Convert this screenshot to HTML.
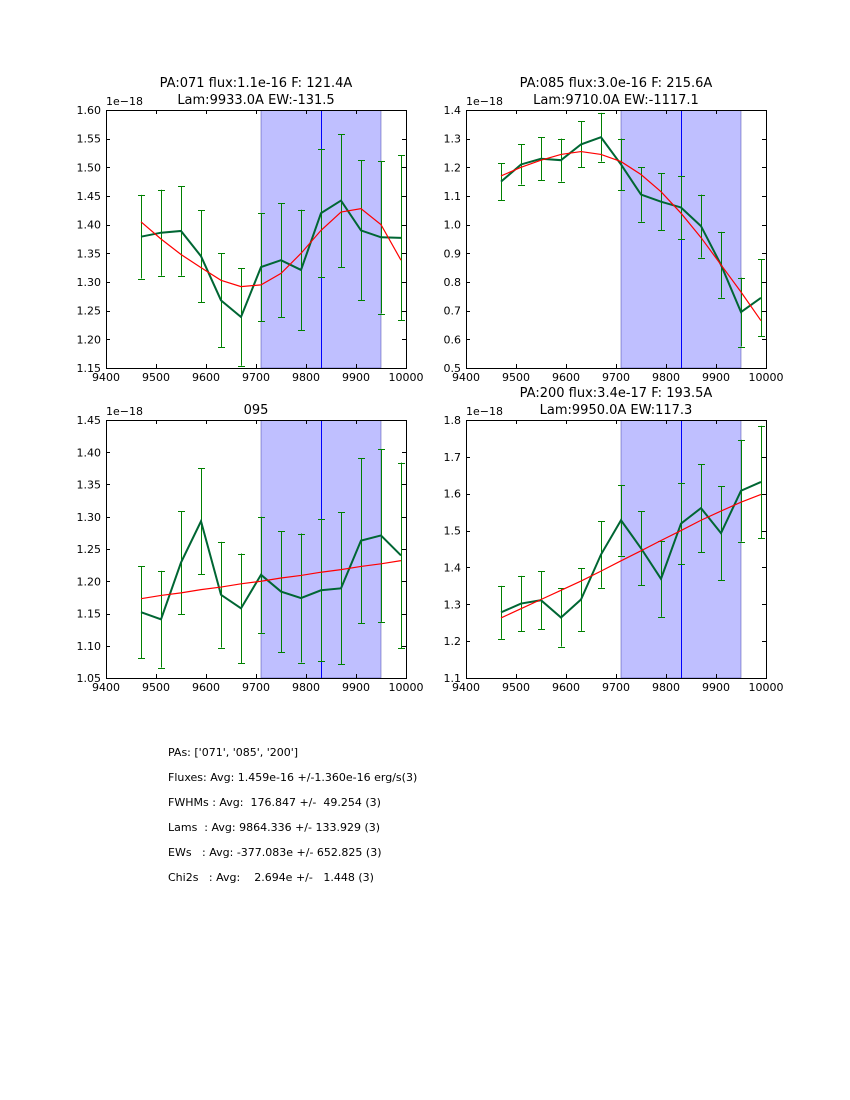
<!DOCTYPE html>
<html><head><meta charset="utf-8"><style>
body{margin:0;background:#fff;width:850px;height:1100px;overflow:hidden}
svg{position:absolute;left:0;top:0}
text{font-family:"DejaVu Sans","Liberation Sans",sans-serif;fill:#000}
.info{position:absolute;left:168px;font-family:"DejaVu Sans","Liberation Sans",sans-serif;font-size:11px;white-space:pre;line-height:13px}
</style></head><body>
<svg id="fig" width="850" height="1100"></svg>
<div class="info" style="top:746px">PAs: ['071', '085', '200']</div>
<div class="info" style="top:771px">Fluxes: Avg: 1.459e-16 +/-1.360e-16 erg/s(3)</div>
<div class="info" style="top:796px">FWHMs : Avg:  176.847 +/-  49.254 (3)</div>
<div class="info" style="top:821px">Lams  : Avg: 9864.336 +/- 133.929 (3)</div>
<div class="info" style="top:846px">EWs   : Avg: -377.083e +/- 652.825 (3)</div>
<div class="info" style="top:871px">Chi2s   : Avg:    2.694e +/-   1.448 (3)</div>
<script>
const wavelengths=[9470,9510,9550,9590,9630,9670,9710,9750,9790,9830,9870,9910,9950,9990];
const xTicks=[9400,9500,9600,9700,9800,9900,10000];
const flux071=[1.379,1.386,1.389,1.345,1.268,1.239,1.326,1.338,1.321,1.420,1.442,1.390,1.378,1.377];
const err071=[0.073,0.075,0.078,0.080,0.082,0.085,0.094,0.099,0.105,0.112,0.116,0.122,0.133,0.144];
const fit071=[1.405,1.375,1.348,1.325,1.303,1.292,1.295,1.315,1.350,1.390,1.422,1.428,1.400,1.338];
const yTicks071=[1.15,1.20,1.25,1.30,1.35,1.40,1.45,1.50,1.55,1.60];
const flux085=[1.15,1.21,1.23,1.225,1.28,1.305,1.21,1.105,1.08,1.06,0.995,0.86,0.695,0.745];
const err085=[0.065,0.07,0.075,0.075,0.08,0.085,0.09,0.095,0.1,0.11,0.11,0.115,0.12,0.135];
const fit085=[1.17,1.2,1.225,1.245,1.255,1.245,1.22,1.175,1.115,1.04,0.955,0.86,0.765,0.665];
const yTicks085=[0.5,0.6,0.7,0.8,0.9,1.0,1.1,1.2,1.3,1.4];
const flux095=[1.152,1.141,1.229,1.293,1.179,1.158,1.210,1.184,1.174,1.186,1.189,1.263,1.271,1.240];
const err095=[0.071,0.075,0.080,0.082,0.082,0.085,0.09,0.094,0.10,0.11,0.118,0.128,0.134,0.144];
const fit095=[1.173,1.178,1.182,1.187,1.191,1.196,1.200,1.205,1.209,1.214,1.218,1.223,1.227,1.232];
const yTicks095=[1.05,1.10,1.15,1.20,1.25,1.30,1.35,1.40,1.45];
const flux200=[1.278,1.302,1.311,1.264,1.313,1.435,1.528,1.452,1.369,1.519,1.561,1.493,1.608,1.632];
const err200=[0.072,0.075,0.078,0.079,0.085,0.09,0.096,0.1,0.103,0.111,0.119,0.128,0.138,0.152];
const fit200=[1.263,1.288,1.313,1.338,1.363,1.390,1.418,1.445,1.473,1.500,1.528,1.553,1.577,1.598];
const yTicks200=[1.1,1.2,1.3,1.4,1.5,1.6,1.7,1.8];
const titles=[["PA:071 flux:1.1e-16 F: 121.4A","Lam:9933.0A EW:-131.5"],["PA:085 flux:3.0e-16 F: 215.6A","Lam:9710.0A EW:-1117.1"],["095"],["PA:200 flux:3.4e-17 F: 193.5A","Lam:9950.0A EW:117.3"]];
const NS="http://www.w3.org/2000/svg";
const fig=document.getElementById('fig');
function mk(tag,attrs,parent){const e=document.createElementNS(NS,tag);for(const k in attrs)e.setAttribute(k,attrs[k]);(parent||fig).appendChild(e);return e;}
const panels=[
 {x:106,y:110,flux:flux071,err:err071,fit:fit071,yt:yTicks071,dec:2,name:'pa071'},
 {x:466,y:110,flux:flux085,err:err085,fit:fit085,yt:yTicks085,dec:1,name:'pa085'},
 {x:106,y:420,flux:flux095,err:err095,fit:fit095,yt:yTicks095,dec:2,name:'pa095'},
 {x:466,y:420,flux:flux200,err:err200,fit:fit200,yt:yTicks200,dec:1,name:'pa200'}];
const W=300,H=258;
panels.forEach((p,i)=>{
 const g=mk('g',{});
 
 
 const y0=p.yt[0],y1=p.yt[p.yt.length-1];
 const sx=v=>p.x+(v-9400)/600*W, sy=v=>p.y+H-(v-y0)/(y1-y0)*H;
 const snap=v=>Math.round(v)+0.5;
 const cp=mk('clipPath',{id:'c'+i},g);
 mk('rect',{x:p.x,y:p.y,width:W,height:H},cp);
 const inner=mk('g',{'clip-path':'url(#c'+i+')'},g);
 const sh=mk('rect',{x:sx(9710),y:p.y,width:sx(9950)-sx(9710),height:H,fill:'#0000ff','fill-opacity':0.25,stroke:'#000080','stroke-opacity':0.35},inner);
 
 
 const cx=snap(sx(9830));
 const vl=mk('line',{x1:cx,x2:cx,y1:p.y,y2:p.y+H,stroke:'#0000ff','stroke-width':1},inner);
 
 
 wavelengths.forEach((w,k)=>{
  const x=snap(sx(w)),a=sy(p.flux[k]-p.err[k]),b=sy(p.flux[k]+p.err[k]);
  const eb=mk('path',{d:`M${x},${a}V${b}M${x-3.5},${snap(a)}H${x+3.5}M${x-3.5},${snap(b)}H${x+3.5}`,stroke:'#008000','stroke-width':1,fill:'none'},inner);
  
  
 });
 const dl=mk('polyline',{points:wavelengths.map((w,k)=>sx(w)+','+sy(p.flux[k])).join(' '),stroke:'#006633','stroke-width':2,fill:'none'},inner);
 
 
 const fl=mk('polyline',{points:wavelengths.map((w,k)=>sx(w)+','+sy(p.fit[k])).join(' '),stroke:'#ff0000','stroke-width':1.2,fill:'none'},inner);
 
 
 const fr=mk('rect',{x:p.x+0.5,y:p.y+0.5,width:W,height:H,fill:'none',stroke:'#000','stroke-width':1},g);
 
 
 xTicks.forEach(t=>{const x=sx(t);
  mk('path',{d:`M${snap(x)},${p.y+H}v-4M${snap(x)},${p.y}v4`,stroke:'#000'},g);
  const tx=mk('text',{x:x,y:p.y+H+13,'font-size':11,'text-anchor':'middle'},g);tx.textContent=t;
  
  
 });
 p.yt.forEach(t=>{const y=sy(t);
  mk('path',{d:`M${p.x},${snap(y)}h4M${p.x+W},${snap(y)}h-4`,stroke:'#000'},g);
  const tx=mk('text',{x:p.x-5,y:y+4,'font-size':11,'text-anchor':'end'},g);tx.textContent=t.toFixed(p.dec);
  
  
 });
 const off=mk('text',{x:p.x,y:p.y-5,'font-size':11},g);off.textContent='1e\u221218';
 
 
 const tl=titles[i];
 tl.forEach((s,j)=>{const t=mk('text',{x:p.x+W/2,y:p.y-(tl.length-j)*17+11,'font-size':13,'text-anchor':'middle'},g);t.textContent=s;
  
  });
});
</script>
</body></html>
